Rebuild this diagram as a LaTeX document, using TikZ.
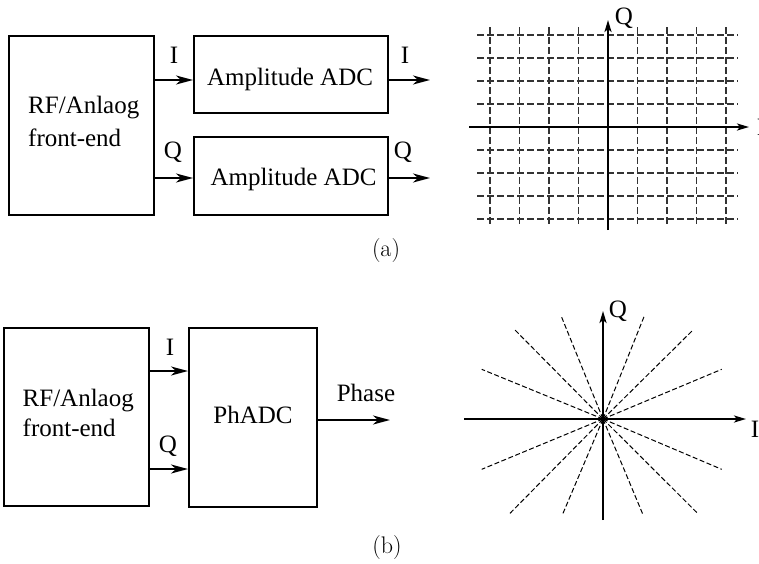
\documentclass[tikz,border=0pt]{standalone}
\usepackage{fontspec}
\newfontfamily\tms{Liberation Serif}
\usetikzlibrary{arrows.meta}
\begin{document}
\begin{tikzpicture}[x=1pt,y=-1pt,
 box/.style={draw,line width=2pt,inner sep=0pt},
 txt/.style={font=\tms\fontsize{25}{30}\selectfont,inner sep=0pt,anchor=base},
 captxt/.style={font=\fontsize{24}{28}\selectfont,inner sep=0pt},
 arr/.style={line width=2pt,-{Stealth[length=17pt,width=9pt,inset=5pt]}},
 gridln/.style={line width=1.2pt,dash pattern=on 7pt off 3pt,black!80},
 rayln/.style={line width=1pt,dash pattern=on 5pt off 2.5pt},
 axisln/.style={line width=2pt,-{Stealth[length=12pt,width=7pt,inset=3pt]}}]
\useasboundingbox (0,0) rectangle (759,563);

% ---------- (a) ----------
\node[box,minimum width=145pt,minimum height=179pt] (rf1) at (81.5,125.5) {};
\node[box,minimum width=194pt,minimum height=77pt] (adc1) at (291,74.5) {};
\node[box,minimum width=194pt,minimum height=78pt] (adc2) at (291,176) {};
\node[txt,anchor=base west] (rf1a) at (28,113) {RF/Anlaog};
\node[txt,anchor=base west] (rf1b) at (28,146) {front-end};
\node[txt] (adc1t) at (290,85) {Amplitude ADC};
\node[txt] (adc2t) at (293.5,185) {Amplitude ADC};

\coordinate (o1) at (430,80);
\coordinate (o2) at (430,178);
\draw[arr] (rf1.east |- o1) -- (adc1.west |- o1);
\draw[arr] (rf1.east |- o2) -- (adc2.west |- o2);
\draw[arr] (adc1.east |- o1) -- (o1);
\draw[arr] (adc2.east |- o2) -- (o2);
\node[txt] (li1) at (174,63) {I};
\node[txt] (lq1) at (173,158) {Q};
\node[txt] (lo1) at (405,63) {I};
\node[txt] (lo2) at (403,158) {Q};

% grid constellation
\foreach \yy in {35,58,81,104,150,173,196,219}
  \draw[gridln] (477,\yy) -- (738,\yy);
\foreach \xx in {490,519.5,549,578.5,637.5,667,696.5,726}
  \draw[gridln] (\xx,27) -- (\xx,225);
\coordinate (ga0) at (469,127);
\coordinate (ga1) at (749,127);
\coordinate (gb0) at (608,230);
\coordinate (gb1) at (608,20);
\draw[axisln] (ga0) -- (ga1);
\draw[axisln] (gb0) -- (gb1);
\node[txt] (gq) at (624,24) {Q};
\node[txt] (gi) at (761,135) {I};

\node[captxt] (capa) at (386,251) {(a)};

% ---------- (b) ----------
\node[box,minimum width=145pt,minimum height=178pt] (rf2) at (76.5,417) {};
\node[box,minimum width=128pt,minimum height=179pt] (ph) at (253,417.5) {};
\node[txt,anchor=base west] (rf2a) at (22.5,406.5) {RF/Anlaog};
\node[txt,anchor=base west] (rf2b) at (22.5,436.5) {front-end};
\node[txt] (pht) at (253,423) {PhADC};

\coordinate (pi) at (0,371);
\coordinate (pq) at (0,469);
\coordinate (po) at (390,420);
\draw[arr] (rf2.east |- pi) -- (ph.west |- pi);
\draw[arr] (rf2.east |- pq) -- (ph.west |- pq);
\draw[arr] (ph.east |- po) -- (po);
\node[txt] (li2) at (170,355) {I};
\node[txt] (lq2) at (168,452) {Q};
\node[txt] (lph) at (366,401.5) {Phase};

% phase constellation
\coordinate (c0) at (603,419);
\foreach \px/\py in {515/330,561.7/317.3,644/316.7,692.3/330.7,721.7/369.3,481.7/369.3,
  481.7/469.3,721.7/469.3,509.3/514,562.7/514,642.7/514,698.3/514}
  \draw[rayln] (c0) -- (\px,\py);
\coordinate (pa0) at (464,419);
\coordinate (pa1) at (746,419);
\coordinate (pb0) at (603,520);
\coordinate (pb1) at (603,311);
\draw[axisln] (pa0) -- (pa1);
\draw[axisln] (pb0) -- (pb1);
\node[txt] (pq2) at (618,317) {Q};
\node[txt] (pi2) at (755,437) {I};

\node[captxt] (capb) at (387,547) {(b)};
\end{tikzpicture}
\end{document}
